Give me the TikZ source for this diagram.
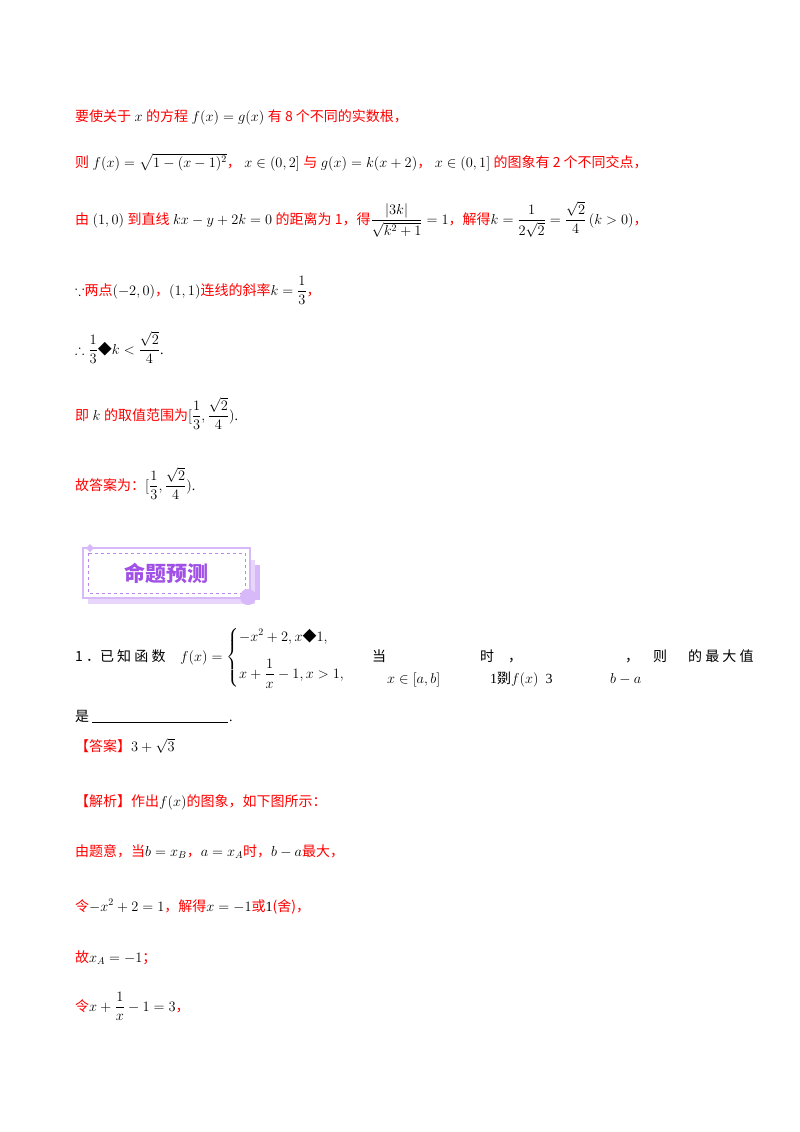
\documentclass[tikz,border=0pt]{standalone}
\usepackage{amsmath,amssymb}
\usepackage{fontspec}
\setmainfont{Liberation Serif}
\newfontfamily\cjk{Noto Sans CJK SC}
\newfontfamily\cjkb{Noto Sans CJK SC Black}
\definecolor{rd}{RGB}{255,0,0}
\definecolor{pu}{RGB}{160,80,230}
\definecolor{lpu}{RGB}{215,185,250}
\newcommand{\R}[1]{{\cjk\color{rd}#1}}
\newcommand{\K}[1]{{\cjk #1}}
\begin{document}
\begin{tikzpicture}[x=1pt,y=-1pt,font=\fontsize{14}{17}\selectfont,
 ln/.style={anchor=base west,inner sep=0pt}]
\useasboundingbox[fill=white] (0,0) rectangle (800,1132);
\node[ln] (l1) at (75,121) {\R{要使关于} $x$ \R{的方程} $f(x)=g(x)$ \R{有 8 个不同的实数根，}};
\node[ln] (l2) at (75,167) {\R{则} $f(x)=\sqrt{1-(x-1)^2}$\R{，} $x\in(0,2]$ \R{与} $g(x)=k(x+2)$\R{，} $x\in(0,1]$ \R{的图象有 2 个不同交点，}};
\node[ln] (l3) at (75,224) {\R{由} $(1,0)$ \R{到直线} $kx-y+2k=0$ \R{的距离为 1，得}$\dfrac{|3k|}{\sqrt{k^2+1}}=1$\R{，解得}$k=\dfrac{1}{2\sqrt2}=\dfrac{\sqrt2}{4}\,(k>0)$\R{，}};
\node[ln] (l4) at (75,295) {$\because$\R{两点}$(-2,0)$\R{，}$(1,1)$\R{连线的斜率}$k=\dfrac13$\R{，}};
\node[ln] (l5) at (75,354) {$\therefore\dfrac13${\cjk ◆}$k<\dfrac{\sqrt2}{4}$.};
\node[ln] (l6) at (75,420) {\R{即} $k$ \R{的取值范围为}$[\dfrac13,\dfrac{\sqrt2}{4})$.};
\node[ln] (l7) at (75,490) {\R{故答案为：}$[\dfrac13,\dfrac{\sqrt2}{4})$.};
% banner
\fill[lpu!60] (88,560) rectangle (255,604);
\fill[lpu] (255,565) rectangle (260,600);
\draw[lpu,line width=1.5pt,fill=white] (83,548) rectangle (250,598);
\draw[pu!70,dashed,thin] (88,553) rectangle (245,593);
\fill[lpu] (248,597) circle (8);
\fill[lpu] (86,548) -- (90,544) -- (94,548) -- (90,552) -- cycle;
\node[font=\cjk\bfseries\fontsize{21}{24}\selectfont,text=pu] (ban) at (166,573) {命题预测};
\node[ln] (p1) at (75,661) {\K{1 ．已 知 函 数}};
\node[ln] (f) at (180,661) {$f(x)=\begin{cases}-x^2+2,x\text{\cjk ◆}1,\\[12pt] x+\dfrac1x-1,x>1,\end{cases}$};
\node[ln] (dang) at (372,661) {\K{当}};
\node[ln] at (480,661) {\K{时}\quad\K{，}};
\node[ln] at (625,661) {\K{，}\quad\K{则}};
\node[ln] at (688,661) {\K{的 最 大 值}};
\node[ln] at (387,683) {$x\in[a,b]$};
\node[ln] at (490,683) {1{\cjk 剟}$f(x)$\ \ 3};
\node[ln] at (610,683) {$b-a$};
\node[ln] (shi) at (75,721) {\K{是}};
\draw (92,722) -- (228,722);
\node[ln] at (229,721) {.};
\node[ln] (ans) at (75,751) {\R{【答案】}$3+\sqrt3$};
\node[ln] (jx) at (75,806) {\R{【解析】作出}$f(x)$\R{的图象，如下图所示：}};
\node[ln] at (75,856) {\R{由题意，当}$b=x_B$\R{，}$a=x_A$\R{时，}$b-a$\R{最大，}};
\node[ln] at (75,911) {\R{令}$-x^2+2=1$\R{，解得}$x=-1$\R{或}1\R{(舍)，}};
\node[ln] at (75,962) {\R{故}$x_A=-1$\R{；}};
\node[ln] at (75,1011) {\R{令}$x+\dfrac1x-1=3$\R{，}};
\end{tikzpicture}
\end{document}
